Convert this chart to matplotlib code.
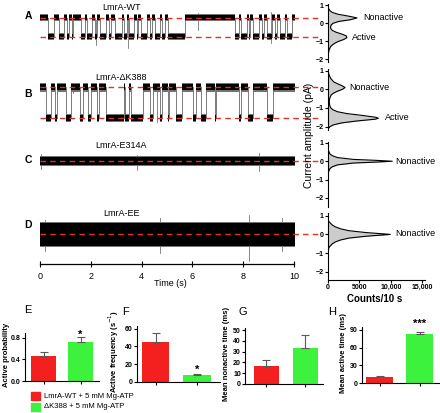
import matplotlib.pyplot as plt
import numpy as np

plt.rcParams['font.family'] = ['Liberation Sans', 'DejaVu Sans']

# ---- data ----
# single channel traces: intervals (s) spent in the active state
activeA = [(0.3, 0.55), (0.75, 0.95), (1.05, 1.15), (1.25, 1.3), (1.6, 1.75), (1.85, 2.05),
           (2.15, 2.25), (2.35, 2.6), (2.7, 2.8), (2.95, 3.2), (3.3, 3.4), (3.5, 3.7),
           (3.8, 3.85), (3.95, 4.2), (4.3, 4.4), (4.5, 4.7), (4.8, 4.9), (5.0, 5.7),
           (7.65, 7.8), (7.9, 8.1), (8.2, 8.25), (8.35, 8.6), (8.7, 8.8), (8.9, 9.1),
           (9.2, 9.3), (9.4, 9.6), (9.7, 9.9)]
activeB = [(0.25, 0.45), (0.6, 0.65), (1.0, 1.2), (1.55, 1.7), (1.9, 2.0), (2.25, 2.3),
           (2.6, 3.3), (3.35, 3.5), (3.55, 4.05), (4.3, 4.45), (4.7, 4.8), (5.0, 5.05),
           (5.35, 5.55), (6.0, 6.1), (6.3, 6.5), (6.85, 6.9), (7.8, 7.9), (8.15, 8.35),
           (8.9, 9.15)]
levelsA = (0.3, -0.75)      # nonactive, active (pA)
levelsB = (0.1, -1.55)
levelsC = (0.0, 0.0)
levelsD = (0.0, 0.0)
noise = [0.14, 0.16, 0.22, 0.6]
spikes = [[(3.45, -1.4, 0.3), (6.2, -0.4, 0.55), (2.2, -1.2, 0.2), (9.05, -1.1, 0.6)],
          [(4.6, -1.75, 0.2), (1.3, -0.2, 0.35)],
          [(0.05, -0.45, 0.4), (3.8, -0.5, 0.35), (8.6, -0.55, 0.45)],
          [(0.2, -0.9, 0.8), (4.7, -1.0, 0.9), (8.2, -1.45, 1.05), (9.5, -0.9, 0.9)]]

# amplitude histograms (pA -> counts per 10 s)
ampA = [1.0, 0.8, 0.7, 0.6, 0.5, 0.4, 0.3, 0.2, 0.1, 0.0, -0.1, -0.2, -0.3, -0.4, -0.5,
        -0.6, -0.7, -0.8, -0.9, -1.0, -1.1, -1.2, -1.3, -1.5, -1.7, -2.0]
cntA = [0, 100, 300, 700, 1600, 3200, 4600, 3600, 1700, 800, 500, 400, 450, 700, 1300,
        2200, 2900, 3000, 2500, 1700, 1100, 700, 400, 150, 50, 0]
ampB = [1.0, 0.8, 0.6, 0.4, 0.3, 0.2, 0.1, 0.0, -0.1, -0.2, -0.3, -0.5, -0.7, -0.9, -1.0,
        -1.1, -1.2, -1.3, -1.4, -1.5, -1.55, -1.6, -1.7, -1.8, -1.9, -2.0, -2.1]
cntB = [0, 150, 400, 900, 1500, 2200, 2700, 2300, 1500, 900, 500, 250, 200, 300, 450,
        800, 1500, 3000, 5500, 7600, 8000, 7500, 4500, 2200, 900, 300, 50]
ampC = [0.8, 0.6, 0.4, 0.3, 0.2, 0.1, 0.05, 0.0, -0.05, -0.1, -0.2, -0.3, -0.4, -0.6, -0.8]
cntC = [0, 50, 300, 700, 1500, 4000, 7500, 10200, 7500, 4000, 1500, 700, 300, 50, 0]
ampD = [0.9, 0.7, 0.5, 0.4, 0.3, 0.2, 0.1, 0.0, -0.1, -0.2, -0.3, -0.4, -0.5, -0.7, -0.9]
cntD = [0, 100, 700, 1200, 2000, 3300, 6000, 9900, 6000, 3300, 2000, 1200, 700, 150, 0]

# bar charts: WT, dK388
probs = [0.465, 0.725]
probs_err = [0.075, 0.09]
freqs = [45, 8]
freqs_err = [10, 1.5]
nonact = [17, 33]
nonact_err = [5.5, 12.5]
actime = [10, 83]
actime_err = [2, 3]

red = '#f41f1f'
green = '#3cf23c'
dash_red = '#e2302b'

W, H = 440, 413
fig = plt.figure(figsize=(W / 100, H / 100), dpi=100)


def box(l, t, r, b):
    return fig.add_axes([l / W, 1 - b / H, (r - l) / W, (b - t) / H])


def ftext(x, y, s, **kw):
    fig.text(x / W, 1 - y / H, s, **kw)


def steps(intervals, levels):
    t = [0.0]
    y = [levels[0]]
    for a, b in intervals:
        t += [a, b]
        y += [levels[1], levels[0]]
    t.append(10.0)
    y.append(y[-1])
    return np.array(t), np.array(y)


rows = [('A', 'LmrA-WT', activeA, levelsA, 4, 62, (-2.15, 1.07), ampA, cntA),
        ('B', 'LmrA-\u0394K388', activeB, levelsB, 69, 130, (-2.18, 1.09), ampB, cntB),
        ('C', 'LmrA-E314A', [], levelsC, 142, 207, (-2.5, 1.05), ampC, cntC),
        ('D', 'LmrA-EE', [], levelsD, 213, 280, (-2.45, 1.15), ampD, cntD)]

for i, (letter, title, ints, lev, top, bot, ylim, amp, cnt) in enumerate(rows):
    # trace
    ax = box(40, top, 295, bot)
    t, y = steps(ints, lev)
    w = noise[i]
    ax.step(t, y, where='post', color='0.4', lw=0.6, zorder=1)
    for ts, lo, hi in spikes[i]:
        ax.plot([ts, ts], [lo, hi], color='0.35', lw=0.5, zorder=1)
    ax.fill_between(t, y - w - 0.06, y + w + 0.06, step='post', color='0.45', lw=0, zorder=2)
    ax.fill_between(t, y - w, y + w, step='post', color='k', lw=0, zorder=3)
    for lv in sorted(set(lev)):
        ax.plot([0, 10.9], [lv, lv], color=dash_red, lw=1.0, dashes=(4, 3), clip_on=False,
                zorder=4)
    ax.set_xlim(0, 10)
    ax.set_ylim(*ylim)
    ax.axis('off')
    ftext(121, [7, 77, 145, 213][i], title, ha='center', va='center', fontsize=6.5)
    ftext(28, [16, 94, 160, 225][i], letter, ha='center', va='center', fontsize=7.5,
          fontweight='bold')

    # histogram
    hx = box(328, top, 425, bot)
    hx.fill_betweenx(amp, 0, cnt, color='0.8', lw=0)
    hx.plot(cnt, amp, color='k', lw=0.8)
    hx.set_xlim(0, 15400)
    hx.set_ylim(*ylim)
    hx.set_yticks([1, 0, -1, -2])
    hx.set_yticklabels(['1', '0', '\u22121', '\u22122'])
    for s in ['top', 'right']:
        hx.spines[s].set_visible(False)
    hx.spines['left'].set_linewidth(0.8)
    hx.tick_params(axis='y', length=2, width=0.8, pad=1, labelsize=5)
    for lab in hx.get_yticklabels():
        lab.set_fontweight('bold')
    if letter == 'D':
        hx.set_xticks([0, 5000, 10000, 15000])
        hx.set_xticklabels(['0', '5000', '10,000', '15,000'], fontsize=5, fontweight='bold')
        hx.tick_params(axis='x', length=2, width=0.8, pad=1)
        hx.spines['bottom'].set_linewidth(0.8)
    else:
        hx.spines['bottom'].set_visible(False)
        hx.set_xticks([])
    hx.patch.set_alpha(0)

# state labels beside the histograms
ftext(363, 17, 'Nonactive', va='center', fontsize=6.5)
ftext(352, 37, 'Active', va='center', fontsize=6.5)
ftext(349, 87, 'Nonactive', va='center', fontsize=6.5)
ftext(385, 118, 'Active', va='center', fontsize=6.5)
ftext(395, 162, 'Nonactive', va='center', fontsize=6.5)
ftext(395, 234, 'Nonactive', va='center', fontsize=6.5)
ftext(309, 135, 'Current amplitude (pA)', rotation=90, ha='center', va='center',
      fontsize=7.5)
ftext(375, 299, 'Counts/10 s', ha='center', va='center', fontsize=7, fontweight='bold')

# time axis
tx = box(40, 250, 294, 264)
tx.set_xlim(0, 10)
tx.set_xticks([0, 2, 4, 6, 8, 10])
tx.tick_params(axis='x', direction='inout', length=5, width=0.8, labelsize=6.5, pad=3)
tx.set_yticks([])
for s in ['top', 'right', 'left']:
    tx.spines[s].set_visible(False)
tx.spines['bottom'].set_linewidth(0.9)
tx.patch.set_alpha(0)
ftext(170, 283, 'Time (s)', ha='center', va='center', fontsize=6.5)


# bar panels
def bars(l, r, top, bot, xlim, ymax, vals, errs, ticks, ylabel, lab_x, letter, let_xy):
    ax = box(l, top, r, bot)
    ax.bar([0, 1], vals, width=0.66, color=[red, green], lw=0)
    ax.errorbar([0, 1], vals, yerr=[[0, 0], errs], fmt='none', ecolor='0.35',
                elinewidth=0.8, capsize=3, capthick=0.8)
    ax.set_xlim(*xlim)
    ax.set_ylim(0, ymax)
    ax.set_yticks(ticks)
    ax.set_xticks([0, 1])
    ax.set_xticklabels([])
    for s in ['top', 'right']:
        ax.spines[s].set_visible(False)
    for s in ['left', 'bottom']:
        ax.spines[s].set_linewidth(0.8)
    ax.tick_params(length=2, width=0.8, pad=1, labelsize=5)
    for lab in ax.get_yticklabels():
        lab.set_fontweight('bold')
    ax.patch.set_alpha(0)
    ftext(lab_x, (top + bot) / 2 - 2, ylabel, rotation=90, ha='center', va='center',
          fontsize=5.5, fontweight='bold')
    ftext(let_xy[0], let_xy[1], letter, ha='center', va='center', fontsize=8)
    return ax


axE = bars(25, 99, 333, 381, (-0.5, 1.5), 0.893, probs, probs_err, [0.0, 0.4, 0.8],
           'Active probability', 6, 'E', (28, 310))
axE.set_yticklabels(['0.0', '0.4', '0.8'], fontweight='bold')
axF = bars(137, 220, 326, 382, (-0.45, 1.55), 63, freqs, freqs_err, [0, 20, 40, 60],
           'Active frequency (s$^{-1}$)', 114, 'F', (125, 312))
axG = bars(245, 323, 328, 384, (-0.55, 1.45), 52, nonact, nonact_err, [0, 10, 20, 30, 40, 50],
           'Mean nonactive time (ms)', 226, 'G', (243, 312))
axH = bars(362, 442, 327, 383, (-0.44, 1.56), 95, actime, actime_err, [0, 30, 60, 90],
           'Mean active time (ms)', 343, 'H', (332, 312))

axE.text(1, 0.86, '*', ha='center', va='center', fontsize=8, fontweight='bold')
axF.text(1, 14, '*', ha='center', va='center', fontsize=8, fontweight='bold')
axH.text(1, 101, '***', ha='center', va='center', fontsize=8, fontweight='bold')

# legend
fig.patches.append(plt.Rectangle((31 / W, 1 - 400 / H), 9 / W, 8 / H, color=red,
                                 transform=fig.transFigure))
fig.patches.append(plt.Rectangle((31 / W, 1 - 411 / H), 9 / W, 8 / H, color=green,
                                 transform=fig.transFigure))
ftext(44, 396, 'LmrA-WT + 5 mM Mg-ATP', va='center', fontsize=5.5)
ftext(44, 407, '\u0394K388 + 5 mM Mg-ATP', va='center', fontsize=5.5)

fig.savefig('out.png', dpi=100)
